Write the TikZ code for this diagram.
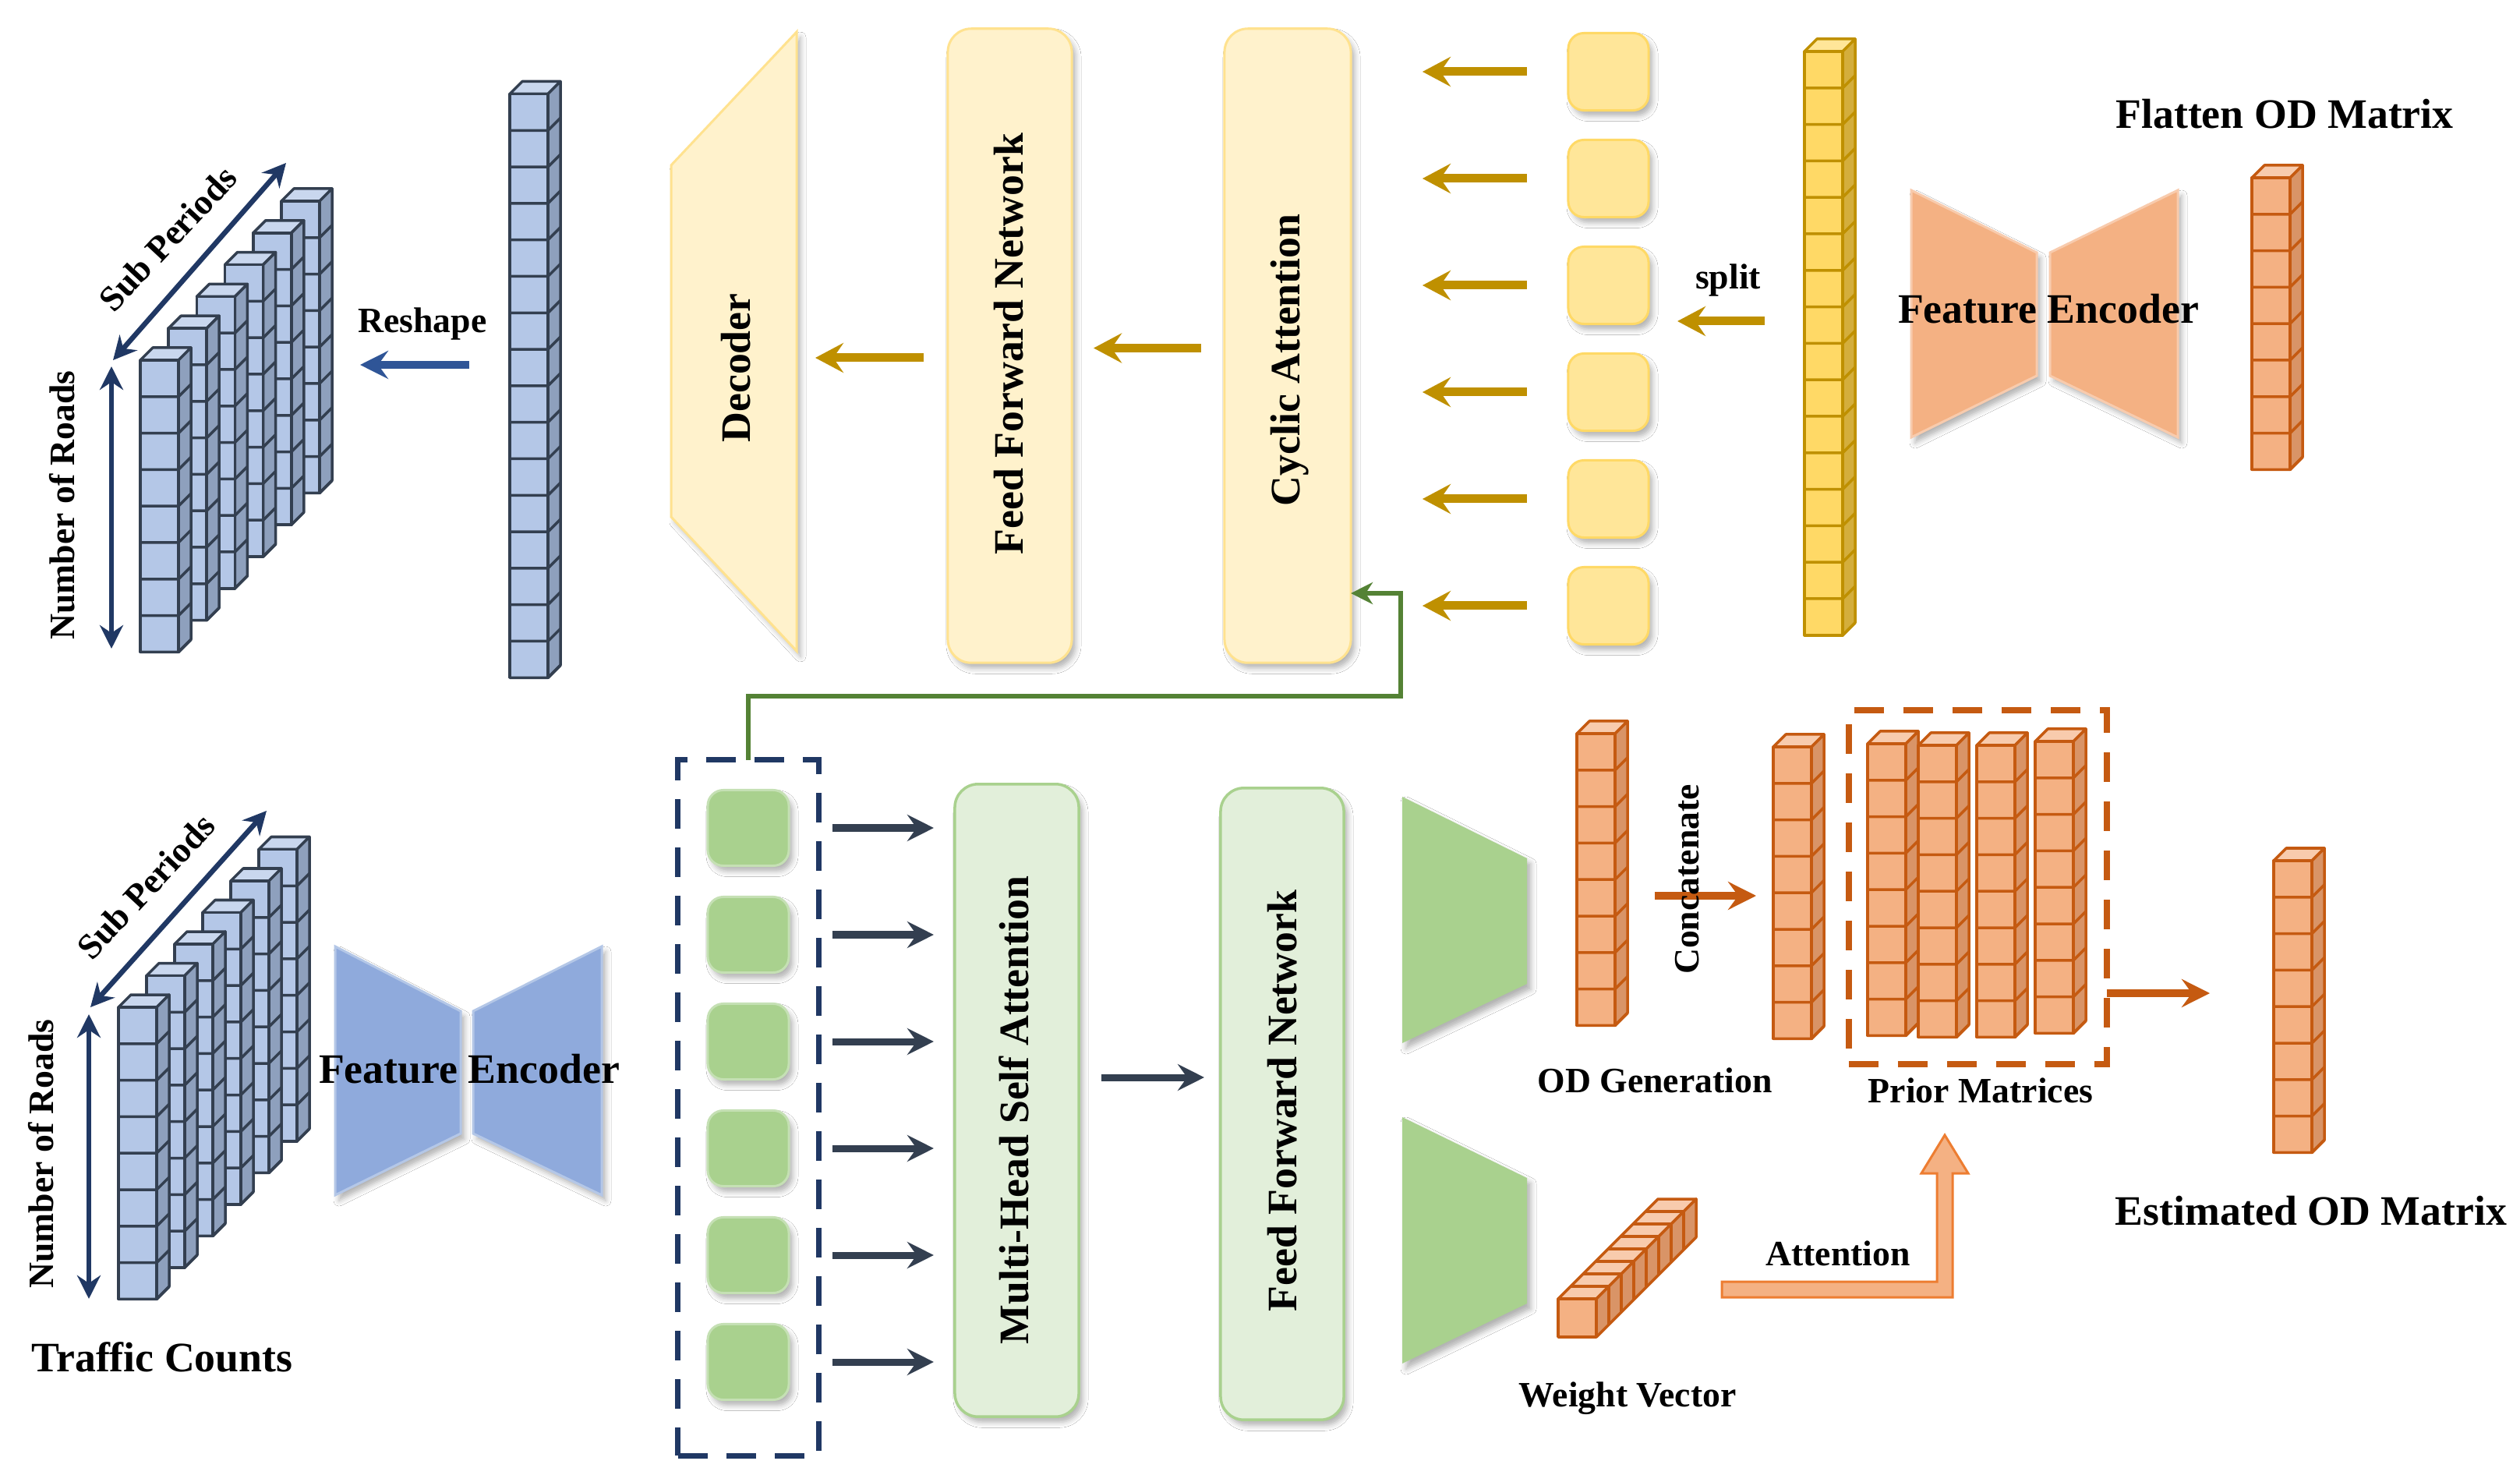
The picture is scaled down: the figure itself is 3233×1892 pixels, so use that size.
\documentclass[tikz,border=0pt]{standalone}
\usepackage{fontspec}
\setmainfont{Liberation Serif}
\usetikzlibrary{arrows.meta,calc,shadows.blur}
\definecolor{btop}{HTML}{C9D7EE}
\definecolor{bside}{HTML}{8EA0BD}
\definecolor{bfront}{HTML}{B4C7E7}
\definecolor{bline}{HTML}{333F50}
\definecolor{ytop}{HTML}{FFE699}
\definecolor{yside}{HTML}{D4AE3C}
\definecolor{yfront}{HTML}{FFD966}
\definecolor{yline}{HTML}{BF9000}
\definecolor{otop}{HTML}{F8CBAD}
\definecolor{oside}{HTML}{D99467}
\definecolor{ofront}{HTML}{F4B183}
\definecolor{oline}{HTML}{C55A11}
\definecolor{cgold}{HTML}{BF9000}
\definecolor{cnavy}{HTML}{203864}
\definecolor{dslate}{HTML}{333F50}
\definecolor{rblue}{HTML}{2F5597}
\definecolor{cgrn}{HTML}{548235}
\definecolor{yfill}{HTML}{FFF2CC}
\definecolor{ybord}{HTML}{FFE28F}
\definecolor{ysqfill}{HTML}{FFE699}
\definecolor{ysqbord}{HTML}{FFD966}
\definecolor{gfill}{HTML}{E2EFDA}
\definecolor{gbord}{HTML}{A9D18E}
\definecolor{gsqfill}{HTML}{A9D18E}
\definecolor{gsqbord}{HTML}{C5E0B4}
\definecolor{encO}{HTML}{F4B183}
\definecolor{encOb}{HTML}{F8CBAD}
\definecolor{encB}{HTML}{8FAADC}
\definecolor{encBb}{HTML}{B4C7E7}
\definecolor{attb}{HTML}{ED7D31}

\newcommand{\odcol}[4]{%
\begin{scope}[shift={(#1,#2)}, color=#4line, line width=0.035cm, line join=round]
 \filldraw[fill=#4top] (0,0) -- (16,-16) -- (65,-16) -- (49,0) -- cycle;
 \filldraw[fill=#4side] (49,0) -- (65,-16) -- (65,{#3*46.8-16}) -- (49,{#3*46.8}) -- cycle;
 \filldraw[fill=#4front] (0,0) rectangle (49,{#3*46.8});
 \foreach \j in {1,...,#3} \draw (0,{\j*46.8}) -- (49,{\j*46.8}) -- (65,{\j*46.8-16});
\end{scope}}

\tikzset{
 lblL/.style={font=\fontsize{15.3}{18}\selectfont\bfseries, inner sep=0pt},
 lblS/.style={font=\fontsize{13}{15}\selectfont\bfseries, inner sep=0pt},
 shad/.style={blur shadow={shadow xshift=0.05cm, shadow yshift=-0.07cm, shadow blur radius=0.07cm, shadow opacity=30}},
 ybox/.style={draw=ybord, fill=yfill, line width=0.03cm, rounded corners=0.3cm, minimum height=8.13cm, outer sep=0pt, inner sep=0pt, shad},
 gbox/.style={draw=gbord, fill=gfill, line width=0.035cm, rounded corners=0.3cm, minimum height=8.1cm, outer sep=0pt, inner sep=0pt, shad},
 ysq/.style={draw=ysqbord, fill=ysqfill, line width=0.03cm, rounded corners=0.2cm, minimum width=1.03cm, minimum height=0.99cm, outer sep=0pt, inner sep=0pt, shad},
 gsq/.style={draw=gsqbord, fill=gsqfill, line width=0.03cm, rounded corners=0.2cm, minimum width=1.04cm, minimum height=0.97cm, outer sep=0pt, inner sep=0pt, shad},
 goldarr/.style={draw=cgold, line width=0.11cm, -{Stealth[length=0.36cm,width=0.38cm,inset=0.13cm]}},
 darkarr/.style={draw=dslate, line width=0.09cm, -{Stealth[length=0.34cm,width=0.34cm,inset=0.12cm]}},
 bluearr/.style={draw=rblue, line width=0.1cm, -{Stealth[length=0.36cm,width=0.36cm,inset=0.13cm]}},
 orarr/.style={draw=oline, line width=0.1cm, -{Stealth[length=0.36cm,width=0.36cm,inset=0.13cm]}},
 navarr/.style={draw=cnavy, line width=0.065cm, {Stealth[length=0.3cm,width=0.3cm,inset=0.1cm]}-{Stealth[length=0.3cm,width=0.3cm,inset=0.1cm]}},
 grnarr/.style={draw=cgrn, line width=0.065cm, -{Stealth[length=0.28cm,width=0.28cm,inset=0.09cm]}},
}

\begin{document}
\begin{tikzpicture}[x=0.01cm,y=-0.01cm]
\useasboundingbox[fill=white] (0,0) rectangle (3233,1892);

% ---------------- top-left: reshaped stack ----------------
\foreach \k in {5,4,...,0} \odcol{180+36.2*\k}{462-40.8*\k}{8}{b};
\coordinate (na0) at (143,470);
\coordinate (na1) at (143,832);
\coordinate (na2) at (145,462);
\coordinate (na3) at (367,209);
\draw[navarr] (na0) -- (na1);
\draw[navarr] (na2) -- (na3);
\node[lblS, rotate=47] (tsp1) at (215,306) {Sub Periods};
\node[lblS, rotate=90] (tnr1) at (80,648) {Number of Roads};
\node[lblS] (tresh) at (542,416) {Reshape};
\odcol{654}{120.5}{16}{b}
\coordinate (rs0) at (602,468);
\coordinate (rs1) at (462,468);
\draw[bluearr] (rs0) -- (rs1);

% ---------------- top middle: decoder branch ----------------
\fill[fill=yfill, draw=ybord, line width=0.03cm, shad] (1022,41) -- (1022,835) -- (861,663) -- (861,212) -- cycle;
\node[lblL, rotate=90] (tdec) at (944,472) {Decoder};
\node[ybox, minimum width=1.59cm] (ffnT) at (1295.5,443.5) {};
\node[lblL, rotate=90] (tffnT) at (1294,441) {Feed Forward Network};
\node[ybox, minimum width=1.62cm] (cyc) at (1652,443.5) {};
\node[lblL, rotate=90] (tcyc) at (1655,462) {Cyclic Attention};
\coordinate (dcR) at (1046,459);
\draw[goldarr] ($(ffnT.west |- dcR)+(-31,0)$) -- (dcR);
\draw[goldarr] ($(cyc.west)+(-30,3)$) -- ($(ffnT.east)+(28,3)$);

% ---------------- top right ----------------
\foreach \i/\y in {1/92,2/229,3/366,4/503,5/640,6/777}{
  \node[ysq] (y\i) at (2063.5,\y) {};
  \draw[goldarr] ([xshift=-0.53cm]y\i.west) -- ++(-134,0);
}
\odcol{2315}{66}{16}{y}
\node[lblS] (tsplit) at (2217,360) {split};
\coordinate (sp0) at (2264,412);
\draw[goldarr] (sp0) -- ($(y3.east |- sp0)+(37,0)$);
\fill[fill=encO, draw=encOb, line width=0.03cm, shad] (2452,244) -- (2613,324) -- (2613,482) -- (2452,561) -- cycle;
\fill[fill=encO, draw=encOb, line width=0.03cm, shad] (2630,324) -- (2794,244) -- (2794,561) -- (2630,482) -- cycle;
\node[lblL] (tfe1) at (2628,396) {Feature Encoder};
\node[lblL] (tflat) at (2931,146) {Flatten OD Matrix};
\odcol{2889}{228}{8}{o}

% ---------------- bottom left ----------------
\foreach \k in {5,4,...,0} \odcol{152+36*\k}{1292-40.5*\k}{8}{b};
\coordinate (nb0) at (114,1301);
\coordinate (nb1) at (114,1666);
\coordinate (nb2) at (116,1292);
\coordinate (nb3) at (342,1040);
\draw[navarr] (nb0) -- (nb1);
\draw[navarr] (nb2) -- (nb3);
\node[lblS, rotate=47] (tsp2) at (187,1137) {Sub Periods};
\node[lblS, rotate=90] (tnr2) at (53,1480) {Number of Roads};
\node[lblL] (ttc) at (208,1741) {Traffic Counts};
\fill[fill=encB, draw=encBb, line width=0.03cm, shad] (430,1214) -- (591,1297) -- (591,1454) -- (430,1533) -- cycle;
\fill[fill=encB, draw=encBb, line width=0.03cm, shad] (607,1297) -- (772,1214) -- (772,1533) -- (607,1454) -- cycle;
\node[lblL] (tfe2) at (602,1371) {Feature Encoder};

% ---------------- bottom middle: encoder branch ----------------
\node[draw=cnavy, line width=0.07cm, dash pattern=on 0.38cm off 0.24cm, minimum width=1.80cm, minimum height=8.92cm, inner sep=0pt, outer sep=0pt] (grp) at (960,1421) {};
\node[gbox, minimum width=1.59cm, minimum height=8.11cm] (mhsa) at (1304.5,1411.5) {};
\node[lblL, rotate=90] (tmhsa) at (1301,1424) {Multi-Head Self Attention};
\node[gbox, minimum width=1.58cm] (ffnB) at (1645,1416) {};
\node[lblL, rotate=90] (tffnB) at (1645,1412) {Feed Forward Network};
\foreach \i/\y in {1/1062,2/1199,3/1336,4/1473,5/1610,6/1747}{
  \node[gsq] (g\i) at (960,\y) {};
  \draw[darkarr] ([xshift=0.56cm]g\i.east) -- ($(g\i.east -| mhsa.west)+(-27,0)$);
}
\coordinate (mf) at (1413,1382);
\draw[darkarr] (mf) -- ($(mf -| ffnB.west)+(-21,0)$);
% green feedback connector
\coordinate (gc1) at (1797,893);
\coordinate (gc2) at (1797,761);
\draw[grnarr] (grp.north) |- (gc1) -- (gc2) -- (gc2 -| cyc.east);

% ---------------- bottom right ----------------
\fill[fill=gsqfill, shad] (1799,1022) -- (1959,1101) -- (1959,1262) -- (1799,1338) -- cycle;
\fill[fill=gsqfill, shad] (1799,1433) -- (1959,1511) -- (1959,1672) -- (1799,1749) -- cycle;
\odcol{2023}{941}{8}{o}
\odcol{2275}{958}{8}{o}
\coordinate (cc0) at (2123,1149);
\coordinate (cc1) at (2253,1149);
\draw[orarr] (cc0) -- (cc1);
\node[lblS, rotate=90] (tconc) at (2165,1128) {Concatenate};
\node[lblS] (todg) at (2123,1386) {OD Generation};
\odcol{2396}{954}{8}{o}
\odcol{2461}{956}{8}{o}
\odcol{2536}{956}{8}{o}
\odcol{2611}{951}{8}{o}
\node[draw=oline, line width=0.08cm, dash pattern=on 0.38cm off 0.25cm, minimum width=3.31cm, minimum height=4.54cm, inner sep=0pt, outer sep=0pt] (prior) at (2537.5,1138) {};
\node[lblS] (tprior) at (2541,1399) {Prior Matrices};
\odcol{2917}{1104}{8}{o}
\coordinate (estL) at (2835,1274);
\draw[orarr] (prior.east |- estL) -- (estL);
\node[lblL] (test) at (2965,1553) {Estimated OD Matrix};
% weight vector
\begin{scope}[shift={(1999,1666)}, color=oline, line width=0.035cm, line join=round]
 \filldraw[fill=otop] (0,0) -- (128,-128) -- (177,-128) -- (49,0) -- cycle;
 \filldraw[fill=oside] (49,0) -- (177,-128) -- (177,-79) -- (49,49) -- cycle;
 \filldraw[fill=ofront] (0,0) rectangle (49,49);
 \foreach \j in {1,...,7} \draw (16*\j,-16*\j) -- (16*\j+49,-16*\j) -- (16*\j+49,-16*\j+49);
\end{scope}
\node[lblS] (twv) at (2088,1794) {Weight Vector};
% attention hollow arrow
\filldraw[fill=encO, draw=attb, line width=0.03cm, line join=miter] (2209,1644) -- (2485,1644) -- (2485,1505) -- (2465,1505) -- (2495,1456) -- (2525,1505) -- (2505,1505) -- (2505,1664) -- (2209,1664) -- cycle;
\node[lblS] (tatt) at (2358,1608) {Attention};
\end{tikzpicture}
\end{document}
